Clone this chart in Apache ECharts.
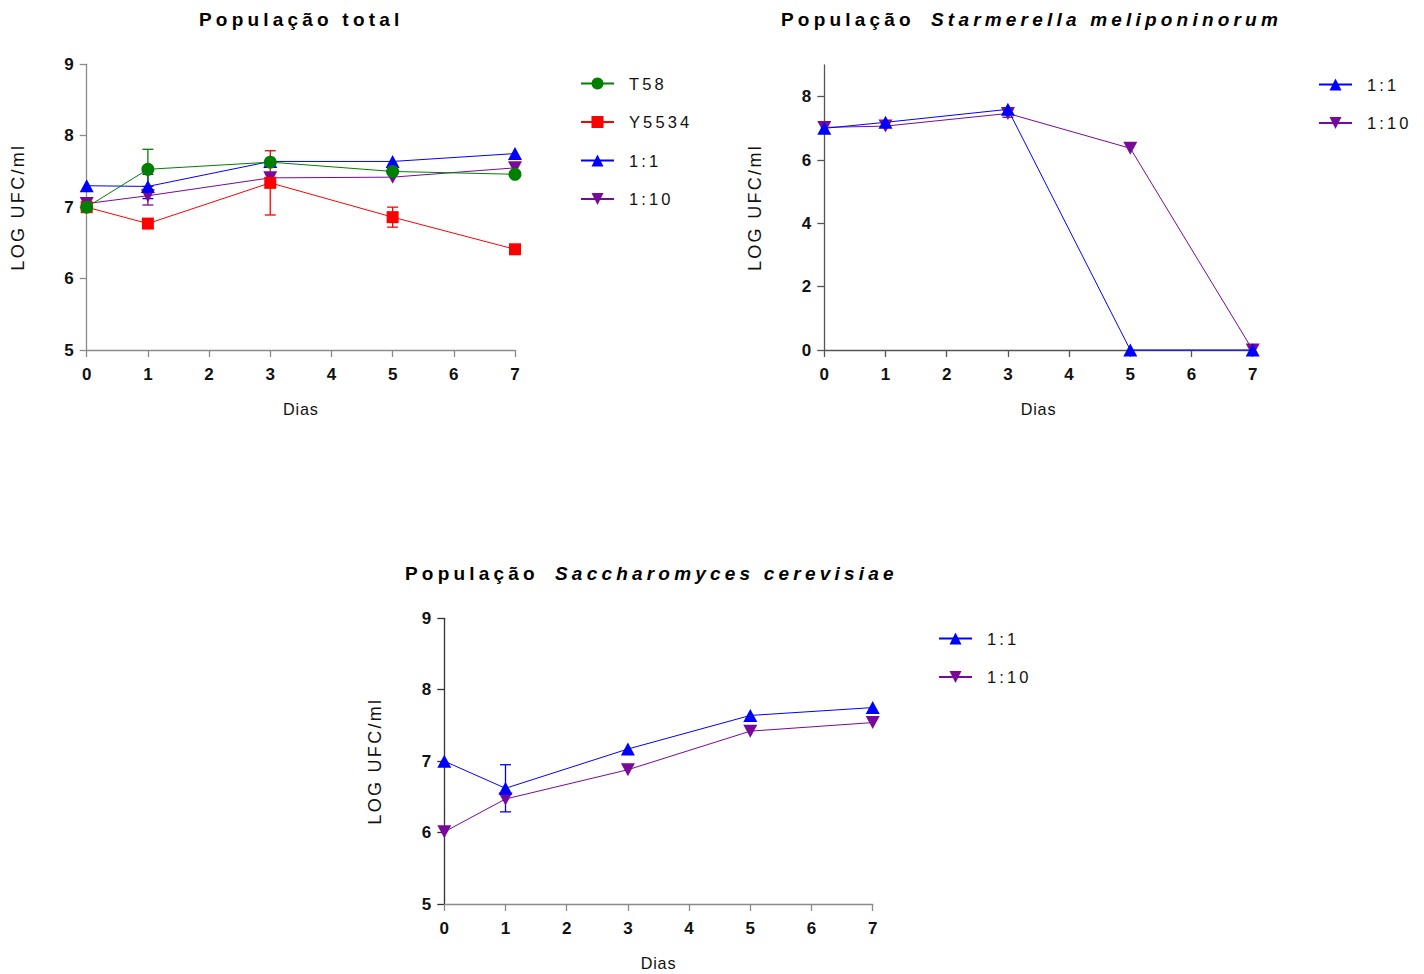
<!DOCTYPE html>
<html>
<head>
<meta charset="utf-8">
<script src="https://cdn.jsdelivr.net/npm/echarts@6/dist/echarts.min.js"></script>
<style>
html,body{margin:0;padding:0;background:#fff;}
#c{width:1424px;height:974px;}
/* letter spacing like the original export */
#c text[style*="19px"]{letter-spacing:4.2px;}
#c text[style*="18px"]{letter-spacing:2.3px;}
#c text[style*="16.5px"]{letter-spacing:3.1px;}
#c text[style*="16.2px"]{letter-spacing:0.8px;}
</style>
</head>
<body>
<div id="c"></div>
<script>
// ---- data ----
const days = [0, 1, 3, 5, 7];
const xTicks = [0, 1, 2, 3, 4, 5, 6, 7];

// Chart A: População total
const totalT58      = [7.00, 7.53, 7.63, 7.50, 7.46];
const totalT58Err   = [0, 0.28, 0, 0, 0];
const totalY5534    = [7.00, 6.77, 7.34, 6.86, 6.41];
const totalY5534Err = [0, 0, 0.45, 0.14, 0];
const total11       = [7.30, 7.29, 7.64, 7.64, 7.75];
const total11Err    = [0, 0.17, 0, 0, 0];
const total110      = [7.05, 7.16, 7.41, 7.42, 7.55];
const total110Err   = [0, 0.13, 0, 0, 0];

// Chart B: População Starmerella meliponinorum
const starm11     = [7.00, 7.19, 7.60, 0, 0];
const starm110    = [7.03, 7.07, 7.47, 6.37, 0];
const starm110Err = [0, 0, 0.12, 0, 0];
const starmYTicks = [0, 2, 4, 6, 8];

// Chart C: População Saccharomyces cerevisiae
const sacc11     = [7.00, 6.62, 7.17, 7.64, 7.75];
const sacc11Err  = [0, 0.33, 0, 0, 0];
const sacc110    = [6.01, 6.47, 6.88, 7.42, 7.54];

const seriesNames = ['T58', 'Y5534', '1:1', '1:10'];
const axisNameY = 'LOG UFC/ml';
const axisNameX = 'Dias';

// ---- styles ----
const FONT = 'Liberation Sans';
const C = {T58: '#008000', Y5534: '#ff0000', '1:1': '#0000ff', '1:10': '#790a99'};
const SYM = {
  T58: {symbol: 'circle', size: 13},
  Y5534: {symbol: 'rect', size: 12},
  '1:1': {symbol: 'triangle', size: [14, 13]},
  '1:10': {symbol: 'path://M0,0L12,0L6,11Z', size: [14, 13]}
};

function lineSeries(name, idx, vals) {
  return {
    type: 'line', name, xAxisIndex: idx, yAxisIndex: idx,
    data: days.map((d, i) => [d, vals[i]]),
    symbol: SYM[name].symbol, symbolSize: SYM[name].size, showSymbol: true,
    clip: false, z: 3,
    lineStyle: {color: C[name], width: 1},
    itemStyle: {color: C[name]},
    emphasis: {disabled: true}
  };
}
function errSeries(name, idx, vals, errs) {
  const data = [];
  days.forEach((d, i) => { if (errs[i]) data.push([d, vals[i] - errs[i], vals[i] + errs[i]]); });
  const color = C[name];
  return {
    type: 'custom', xAxisIndex: idx, yAxisIndex: idx, data, z: 2, silent: true,
    encode: {x: 0, y: [1, 2]}, clip: false,
    renderItem(params, api) {
      const x = api.value(0);
      const lo = api.coord([x, api.value(1)]);
      const hi = api.coord([x, api.value(2)]);
      const w = 5.5;
      const st = {stroke: color, lineWidth: 1.3};
      return {type: 'group', children: [
        {type: 'line', shape: {x1: lo[0], y1: lo[1], x2: hi[0], y2: hi[1]}, style: st},
        {type: 'line', shape: {x1: lo[0] - w, y1: lo[1], x2: lo[0] + w, y2: lo[1]}, style: st},
        {type: 'line', shape: {x1: hi[0] - w, y1: hi[1], x2: hi[0] + w, y2: hi[1]}, style: st}
      ]};
    }
  };
}
function xAxis(idx, color) {
  return {
    type: 'value', gridIndex: idx, min: 0, max: 7, interval: 1,
    name: axisNameX, nameLocation: 'middle', nameGap: 51,
    nameTextStyle: {fontFamily: FONT, fontSize: 16.2, color: '#111'},
    axisLine: {show: true, onZero: false, lineStyle: {color, width: 1.3}},
    axisTick: {show: true, length: 7, inside: false, lineStyle: {color, width: 1.3}},
    axisLabel: {fontFamily: FONT, fontSize: 17, fontWeight: 'bold', color: '#111', margin: 16,
      customValues: xTicks},
    splitLine: {show: false}
  };
}
function yAxis(idx, color, min, max, interval, ticks) {
  const ax = {
    type: 'value', gridIndex: idx, min, max, interval,
    name: axisNameY, nameLocation: 'middle', nameGap: 60,
    nameTextStyle: {fontFamily: FONT, fontSize: 18, color: '#111'},
    axisLine: {show: true, onZero: false, lineStyle: {color, width: 1.3}},
    axisTick: {show: true, length: 7, inside: false, lineStyle: {color, width: 1.3}},
    axisLabel: {fontFamily: FONT, fontSize: 17, fontWeight: 'bold', color: '#111', margin: 13},
    splitLine: {show: false}
  };
  if (ticks) { ax.axisLabel.customValues = ticks; ax.axisTick.customValues = ticks; }
  return ax;
}
function legend(left, top, names) {
  return {
    orient: 'vertical', left, top, data: names, itemWidth: 33, itemHeight: 15, itemGap: 21.5,
    padding: 0, selectedMode: false,
    textStyle: {fontFamily: FONT, fontSize: 16.5, color: '#111', padding: [0, 0, 0, 10]}
  };
}
const titleStyle = (italic) => ({fontFamily: FONT, fontSize: 19, fontWeight: 'bold', color: '#000',
  fontStyle: italic ? 'italic' : 'normal'});

const option = {
  backgroundColor: '#fff',
  animation: false,
  title: [
    {text: 'População total', left: 199, top: 10, padding: 0, textStyle: titleStyle(false)},
    {text: 'População', left: 781, top: 10, padding: 0, textStyle: titleStyle(false)},
    {text: 'Starmerella meliponinorum', left: 931, top: 10, padding: 0, textStyle: titleStyle(true)},
    {text: 'População', left: 405, top: 564, padding: 0, textStyle: titleStyle(false)},
    {text: 'Saccharomyces cerevisiae', left: 555, top: 564, padding: 0, textStyle: titleStyle(true)}
  ],
  legend: [
    legend(580, 75, seriesNames),
    legend(1318, 76, ['1:1', '1:10']),
    legend(938, 630, ['1:1', '1:10'])
  ],
  grid: [
    {left: 86.7, top: 64.3, width: 428.3, height: 285.7},
    {left: 824.3, top: 65, width: 428.4, height: 285},
    {left: 444.3, top: 618.3, width: 428.4, height: 285.7}
  ],
  xAxis: [xAxis(0, '#8a8a8a'), xAxis(1, '#555'), xAxis(2, '#8a8a8a')],
  yAxis: [
    yAxis(0, '#8a8a8a', 5, 9, 1),
    yAxis(1, '#555', 0, 9, 1, starmYTicks),
    yAxis(2, '#333', 5, 9, 1)
  ],
  series: [
    errSeries('1:10', 0, total110, total110Err),
    errSeries('1:1', 0, total11, total11Err),
    errSeries('Y5534', 0, totalY5534, totalY5534Err),
    errSeries('T58', 0, totalT58, totalT58Err),
    lineSeries('1:10', 0, total110),
    lineSeries('1:1', 0, total11),
    lineSeries('Y5534', 0, totalY5534),
    lineSeries('T58', 0, totalT58),

    errSeries('1:10', 1, starm110, starm110Err),
    lineSeries('1:10', 1, starm110),
    lineSeries('1:1', 1, starm11),

    errSeries('1:1', 2, sacc11, sacc11Err),
    lineSeries('1:10', 2, sacc110),
    lineSeries('1:1', 2, sacc11)
  ]
};
const chart = echarts.init(document.getElementById('c'), null, {renderer: 'svg'});
chart.setOption(option);
</script>
</body>
</html>
